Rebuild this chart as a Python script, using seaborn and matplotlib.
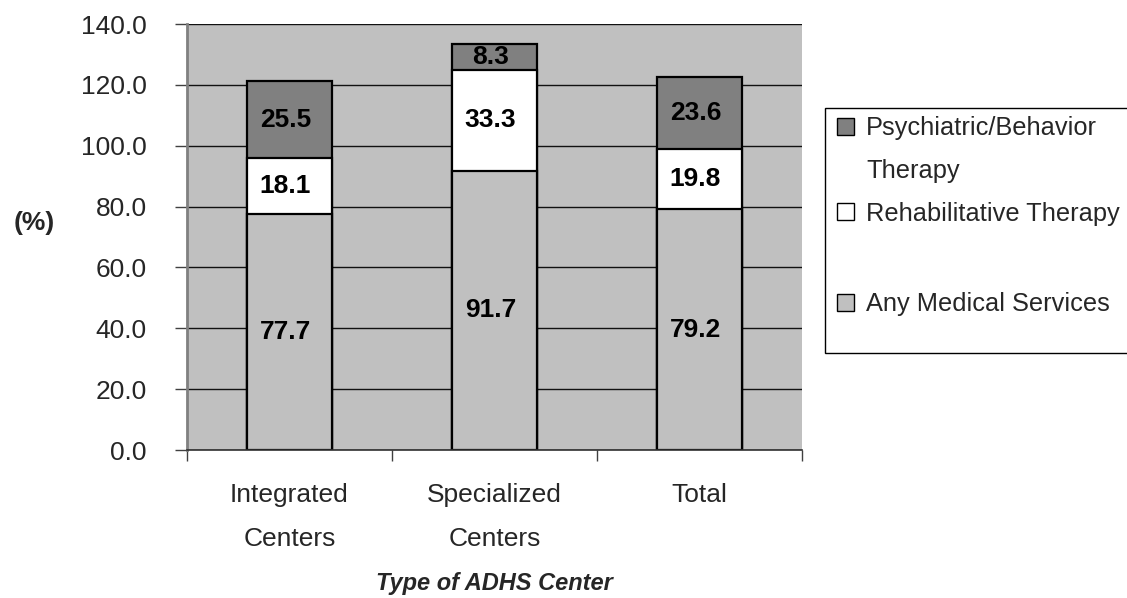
import matplotlib
matplotlib.use("Agg")
import matplotlib.pyplot as plt
import seaborn as sns
import pandas as pd
from matplotlib.patches import Rectangle

centers = ["Integrated\nCenters", "Specialized\nCenters", "Total"]
medical = [77.7, 91.7, 79.2]
rehab = [18.1, 33.3, 19.8]
psych = [25.5, 8.3, 23.6]
series_names = ["Psychiatric/Behavior\nTherapy", "Rehabilitative Therapy", "Any Medical Services"]
yticks = [0, 20, 40, 60, 80, 100, 120, 140]

sns.set_theme(style="white")
plt.rcParams['font.family'] = ['Liberation Sans', 'DejaVu Sans']

df = pd.DataFrame({"center": centers, "medical": medical, "rehab": rehab, "psych": psych})
df["mr"] = df["medical"] + df["rehab"]
df["total"] = df["mr"] + df["psych"]

W, H = 1127, 598
fig = plt.figure(figsize=(W / 100, H / 100), dpi=100)
ax = fig.add_axes([187 / W, 1 - 450 / H, (802 - 187) / W, (450 - 24) / H])
ax.set_facecolor("#C0C0C0")
ax.set_axisbelow(True)
ax.yaxis.grid(True, color="#111111", linewidth=1.0)

kw = dict(width=0.41, edgecolor="black", linewidth=1.6, ax=ax)
sns.barplot(data=df, x="center", y="total", color="#808080", saturation=1, **kw)
sns.barplot(data=df, x="center", y="mr", color="#FFFFFF", saturation=1, **kw)
sns.barplot(data=df, x="center", y="medical", color="#C0C0C0", saturation=1, **kw)

for i in range(len(centers)):
    for lo, val in [(0, medical[i]), (medical[i], rehab[i]), (medical[i] + rehab[i], psych[i])]:
        ax.text(i - 0.02, lo + val / 2, f"{val:.1f}", ha="center", va="center",
                fontsize=19, fontweight="bold", color="black")

ax.set_ylim(0, 140)
ax.set_xlim(-0.5, 2.5)
ax.set_yticks(yticks)
ax.set_yticklabels([f"{v:.1f}" for v in yticks], fontsize=19)
ax.set_xticks([0, 1, 2])
ax.set_xticklabels(centers, fontsize=19, linespacing=2.05)
ax.set_xticks([-0.5, 0.5, 1.5, 2.5], minor=True)
ax.tick_params(axis="x", which="major", length=0, pad=24)
ax.tick_params(axis="x", which="minor", length=8, width=1, color="#404040", direction="out", bottom=True)
ax.tick_params(axis="y", which="major", length=9, width=1, color="#404040", direction="out", left=True, pad=20)

for s in ["top", "right"]:
    ax.spines[s].set_visible(False)
ax.spines["left"].set_color("#808080")
ax.spines["left"].set_linewidth(2)
ax.spines["bottom"].set_color("#303030")
ax.spines["bottom"].set_linewidth(1.2)

ax.set_xlabel("Type of ADHS Center", fontsize=17, fontweight="bold", fontstyle="italic", labelpad=15)
ax.set_ylabel("")
fig.text(34 / W, 1 - 223 / H, "(%)", fontsize=19, fontweight="bold", ha="center", va="center")

# legend box
fig.patches.append(Rectangle((825 / W, 1 - 353 / H), 320 / W, (353 - 108) / H, transform=fig.transFigure,
                             facecolor="white", edgecolor="black", linewidth=1))
colors = ["#808080", "#FFFFFF", "#C0C0C0"]
ys = [126, 211, 302]
for c, y in zip(colors, ys):
    fig.patches.append(Rectangle((837 / W, 1 - (y + 9) / H), 17 / W, 17 / H, transform=fig.transFigure,
                                 facecolor=c, edgecolor="black", linewidth=1))
legend_lines = [("Psychiatric/Behavior", 126), ("Therapy", 169),
                ("Rehabilitative Therapy", 211), ("Any Medical Services", 302)]
for txt, y in legend_lines:
    fig.text(866 / W, 1 - y / H, txt, fontsize=18.3, ha="left", va="center_baseline")

fig.savefig("out.png", dpi=100)
